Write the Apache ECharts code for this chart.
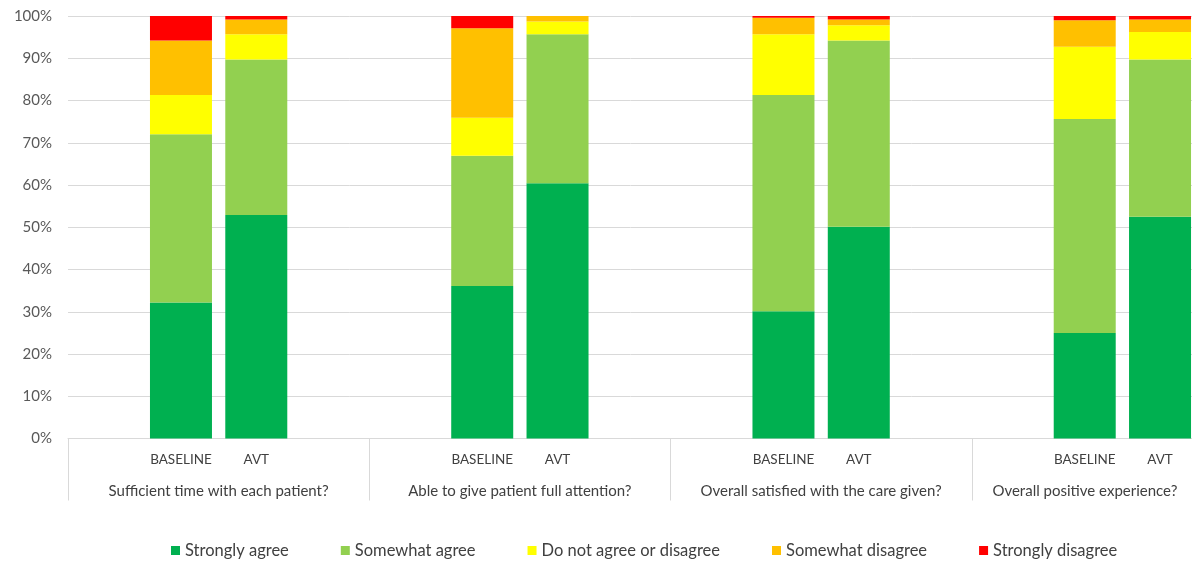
<!DOCTYPE html>
<html>
<head>
<meta charset="utf-8">
<script src="https://cdn.jsdelivr.net/npm/echarts@6/dist/echarts.min.js"></script>
<style>
  html, body { margin: 0; padding: 0; background: #fff; }
  #chart { width: 1192px; height: 562px; }
</style>
</head>
<body>
<div id="chart"></div>
<script>
// Survey questions (outer category level) and the two periods compared in each
const questions = [
  'Sufficient time with each patient?',
  'Able to give patient full attention?',
  'Overall satisfied with the care given?',
  'Overall positive experience?'
];
const periods = ['BASELINE', 'AVT'];

// Share of responses (%), ordered Q1 BASELINE, Q1 AVT, Q2 BASELINE, ...
const stronglyAgree    = [32.2, 52.9, 36.1, 60.4, 30.1, 50.1, 25.0, 52.5];
const somewhatAgree    = [39.8, 36.8, 30.8, 35.3, 51.2, 44.1, 50.6, 37.2];
const neitherAgree     = [9.3, 6.0, 9.0, 3.0, 14.4, 3.6, 17.1, 6.5];
const somewhatDisagree = [12.9, 3.5, 21.2, 1.3, 3.9, 1.4, 6.3, 3.0];
const stronglyDisagree = [5.8, 0.8, 2.9, 0.0, 0.4, 0.8, 1.0, 0.8];

const yTicks = [0, 10, 20, 30, 40, 50, 60, 70, 80, 90, 100];

const seriesDefs = [
  { name: 'Strongly agree', values: stronglyAgree, color: '#00B050' },
  { name: 'Somewhat agree', values: somewhatAgree, color: '#92D050' },
  { name: 'Do not agree or disagree', values: neitherAgree, color: '#FFFF00' },
  { name: 'Somewhat disagree', values: somewhatDisagree, color: '#FFC000' },
  { name: 'Strongly disagree', values: stronglyDisagree, color: '#FF0000' }
];

// Each question gets four slots: spacer, BASELINE, AVT, spacer
const slotLabels = [];
questions.forEach(() => { slotLabels.push(''); periods.forEach(p => slotLabels.push(p)); slotLabels.push(''); });

function toSlots(values) {
  const out = [];
  questions.forEach((q, qi) => {
    out.push('-');
    periods.forEach((p, pi) => out.push(values[qi * periods.length + pi]));
    out.push('-');
  });
  return out;
}

const FONT = 'Lato, "Liberation Sans", sans-serif';
const TEXT = '#404040';
const GROUP_LABEL = { fontFamily: FONT, fontSize: 15, color: TEXT };

const chart = echarts.init(document.getElementById('chart'), null, { renderer: 'canvas' });
chart.setOption({
  animation: false,
  textStyle: { fontFamily: FONT },
  // plot area runs past the right edge of the canvas; the last group is clipped
  grid: { left: 68, top: 16, width: 1205, height: 422.5, outerBoundsMode: 'none', containLabel: false },
  legend: {
    left: 166,
    top: 537,
    icon: 'rect',
    itemWidth: 9,
    itemHeight: 9,
    itemGap: 52,
    textStyle: { fontFamily: FONT, fontSize: 16.5, color: TEXT },
    data: seriesDefs.map(s => s.name)
  },
  xAxis: [
    {
      type: 'category',
      data: slotLabels,
      axisLine: { show: true, lineStyle: { color: '#d9d9d9', width: 1 } },
      axisTick: { show: false },
      axisLabel: { interval: 0, margin: 14, fontFamily: FONT, fontSize: 13.5, color: TEXT },
      splitLine: { show: false }
    },
    {
      type: 'category',
      position: 'bottom',
      data: questions,
      axisLine: { show: false },
      axisTick: { show: true, length: 62, lineStyle: { color: '#d9d9d9' } },
      axisLabel: {
        interval: 0,
        margin: 45,
        ...GROUP_LABEL,
        // the last group is clipped, so its label is centred on the visible part
        formatter: (v, i) => i === questions.length - 1 ? '{edge|' + v + '}' : v,
        rich: { edge: { ...GROUP_LABEL, padding: [0, 75, 0, 0] } }
      },
      splitLine: { show: false }
    }
  ],
  yAxis: {
    type: 'value',
    min: yTicks[0],
    max: yTicks[yTicks.length - 1],
    interval: yTicks[1] - yTicks[0],
    axisLine: { show: false },
    axisTick: { show: false },
    axisLabel: { margin: 16, formatter: '{value}%', fontFamily: FONT, fontSize: 15, color: '#595959' },
    splitLine: { lineStyle: { color: '#d9d9d9', width: 1 } }
  },
  series: seriesDefs.map(s => ({
    name: s.name,
    type: 'bar',
    stack: 'total',
    xAxisIndex: 0,
    barWidth: 62,
    itemStyle: { color: s.color },
    data: toSlots(s.values)
  }))
});
</script>
</body>
</html>
